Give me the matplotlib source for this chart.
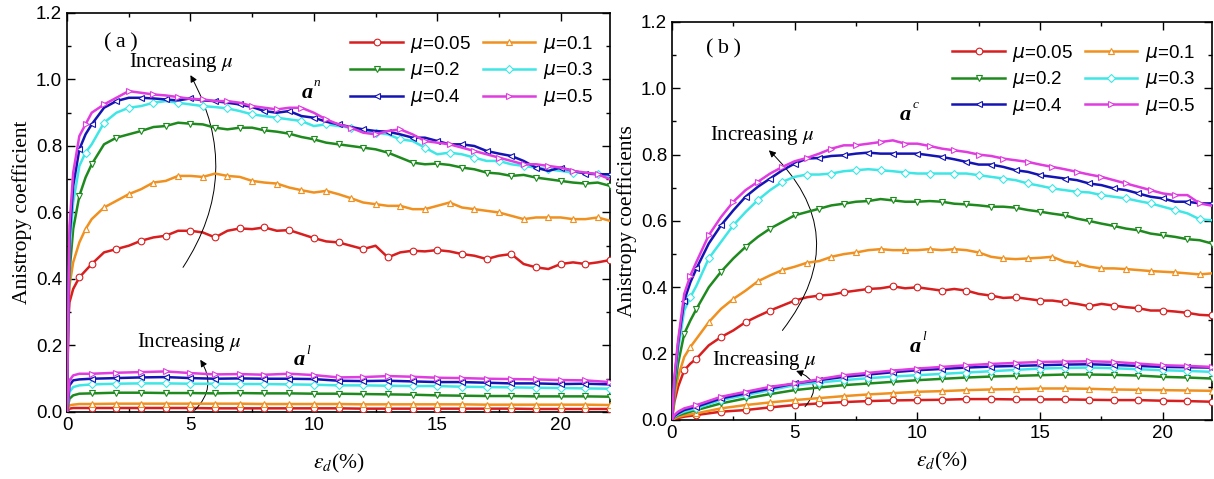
import numpy as np
import matplotlib.pyplot as plt
from matplotlib.ticker import MultipleLocator
from matplotlib.font_manager import FontProperties

plt.rcParams['font.family'] = 'Liberation Sans'

mus = ['0.05', '0.1', '0.2', '0.3', '0.4', '0.5']
colors = ['#d81e1e', '#f0901e', '#1e8a1e', '#3ee6e6', '#1414b4', '#e03ce0']
markers = ['o', '^', 'v', 'D', '<', '>']

# sampling grids of the read-off curves
xa_up = np.concatenate(([0, 0.05, 0.1, 0.25, 0.5, 0.75], np.arange(1, 22.01, 0.5)))
xb_up = np.concatenate(([0, 0.1, 0.25, 0.5, 0.75], np.arange(1, 22.01, 0.5)))
x_low = np.concatenate(([0, 0.1, 0.25, 0.5], np.arange(1, 22.01, 1.0)))

# ---- panel (a): a^n ----
an_005 = [0, 0.27, 0.33, 0.37, 0.405, 0.425,
          0.445, 0.48, 0.49, 0.50, 0.515, 0.525, 0.53, 0.545, 0.545, 0.54,
          0.525, 0.545, 0.552, 0.55, 0.555, 0.545, 0.547, 0.535, 0.523, 0.513,
          0.51, 0.50, 0.49, 0.50, 0.465, 0.48, 0.485, 0.483, 0.487, 0.483,
          0.475, 0.47, 0.46, 0.47, 0.475, 0.445, 0.435, 0.43, 0.445, 0.45,
          0.445, 0.45, 0.457]
an_01 = [0, 0.30, 0.38, 0.45, 0.51, 0.55,
         0.58, 0.615, 0.635, 0.655, 0.67, 0.69, 0.695, 0.71, 0.71, 0.707,
         0.717, 0.71, 0.707, 0.695, 0.69, 0.687, 0.675, 0.667, 0.66, 0.665,
         0.655, 0.643, 0.63, 0.625, 0.62, 0.62, 0.61, 0.61, 0.62, 0.63,
         0.615, 0.61, 0.605, 0.60, 0.59, 0.58, 0.585, 0.585, 0.585, 0.58,
         0.58, 0.585, 0.575]
an_02 = [0, 0.30, 0.42, 0.55, 0.65, 0.705,
         0.745, 0.805, 0.825, 0.835, 0.845, 0.857, 0.86, 0.87, 0.867, 0.865,
         0.855, 0.85, 0.855, 0.855, 0.847, 0.843, 0.837, 0.827, 0.82, 0.81,
         0.805, 0.80, 0.795, 0.79, 0.78, 0.765, 0.75, 0.745, 0.747, 0.743,
         0.735, 0.73, 0.72, 0.717, 0.71, 0.713, 0.705, 0.70, 0.695, 0.69,
         0.687, 0.69, 0.68]
an_03 = [0, 0.30, 0.48, 0.63, 0.74, 0.78,
         0.805, 0.87, 0.90, 0.915, 0.92, 0.93, 0.935, 0.93, 0.925, 0.92,
         0.917, 0.913, 0.905, 0.895, 0.89, 0.885, 0.88, 0.875, 0.86, 0.865,
         0.86, 0.855, 0.845, 0.84, 0.835, 0.82, 0.815, 0.795, 0.775, 0.78,
         0.775, 0.765, 0.755, 0.755, 0.745, 0.74, 0.735, 0.73, 0.725, 0.72,
         0.72, 0.715, 0.71]
an_04 = [0, 0.30, 0.52, 0.68, 0.79, 0.835,
         0.865, 0.915, 0.935, 0.945, 0.945, 0.943, 0.94, 0.937, 0.943, 0.937,
         0.935, 0.93, 0.925, 0.917, 0.905, 0.90, 0.905, 0.89, 0.885, 0.873,
         0.865, 0.857, 0.85, 0.845, 0.843, 0.835, 0.825, 0.825, 0.815, 0.805,
         0.805, 0.80, 0.785, 0.777, 0.77, 0.755, 0.735, 0.725, 0.735, 0.725,
         0.717, 0.715, 0.715]
an_05 = [0, 0.30, 0.56, 0.72, 0.83, 0.865,
         0.90, 0.925, 0.945, 0.965, 0.96, 0.955, 0.952, 0.947, 0.942, 0.94,
         0.935, 0.935, 0.93, 0.92, 0.915, 0.91, 0.915, 0.915, 0.90, 0.88,
         0.865, 0.855, 0.84, 0.835, 0.845, 0.85, 0.835, 0.815, 0.81, 0.805,
         0.795, 0.785, 0.775, 0.765, 0.755, 0.745, 0.745, 0.74, 0.735, 0.725,
         0.72, 0.715, 0.70]

# ---- panel (a): a^l ----
ala_005 = [0, 0.010, 0.012, 0.012,
           0.012, 0.012, 0.012, 0.012, 0.012, 0.011, 0.011, 0.011, 0.011, 0.011, 0.011,
           0.010, 0.010, 0.010, 0.010, 0.010, 0.010, 0.010, 0.009, 0.009, 0.009, 0.009]
ala_01 = [0, 0.020, 0.022, 0.024,
          0.024, 0.025, 0.025, 0.025, 0.025, 0.025, 0.025, 0.024, 0.024, 0.024, 0.024,
          0.023, 0.023, 0.023, 0.023, 0.023, 0.022, 0.022, 0.022, 0.022, 0.022, 0.021]
ala_02 = [0, 0.040, 0.050, 0.055,
          0.056, 0.058, 0.058, 0.057, 0.057, 0.056, 0.057, 0.056, 0.056, 0.055, 0.055,
          0.054, 0.053, 0.052, 0.050, 0.049, 0.048, 0.048, 0.047, 0.047, 0.047, 0.046]
ala_03 = [0, 0.060, 0.075, 0.080,
          0.083, 0.085, 0.086, 0.086, 0.085, 0.085, 0.084, 0.084, 0.083, 0.082, 0.080,
          0.080, 0.079, 0.078, 0.078, 0.076, 0.075, 0.074, 0.073, 0.072, 0.071, 0.070]
ala_04 = [0, 0.080, 0.095, 0.098,
          0.100, 0.102, 0.104, 0.105, 0.102, 0.100, 0.101, 0.100, 0.100, 0.099, 0.094,
          0.093, 0.094, 0.092, 0.090, 0.090, 0.088, 0.086, 0.086, 0.084, 0.085, 0.083]
ala_05 = [0, 0.095, 0.110, 0.115,
          0.115, 0.118, 0.120, 0.122, 0.117, 0.113, 0.114, 0.112, 0.115, 0.111, 0.104,
          0.105, 0.108, 0.106, 0.103, 0.102, 0.100, 0.099, 0.098, 0.096, 0.095, 0.090]

# ---- panel (b): a^c ----
ac_005 = [0, 0.055, 0.10, 0.15, 0.17,
          0.185, 0.225, 0.25, 0.27, 0.295, 0.313, 0.33, 0.345, 0.36, 0.37,
          0.375, 0.378, 0.385, 0.39, 0.395, 0.397, 0.403, 0.397, 0.40, 0.395,
          0.39, 0.395, 0.39, 0.38, 0.375, 0.368, 0.37, 0.365, 0.36, 0.36,
          0.355, 0.35, 0.343, 0.35, 0.345, 0.34, 0.337, 0.33, 0.33, 0.327,
          0.323, 0.317, 0.315]
ac_01 = [0, 0.07, 0.13, 0.19, 0.22,
         0.245, 0.295, 0.335, 0.365, 0.39, 0.418, 0.436, 0.452, 0.462, 0.474,
         0.479, 0.492, 0.50, 0.505, 0.512, 0.515, 0.512, 0.512, 0.512, 0.515,
         0.512, 0.515, 0.512, 0.505, 0.492, 0.487, 0.485, 0.487, 0.489, 0.492,
         0.477, 0.472, 0.462, 0.457, 0.457, 0.455, 0.452, 0.449, 0.447, 0.445,
         0.442, 0.439, 0.442]
ac_02 = [0, 0.09, 0.17, 0.26, 0.30,
         0.335, 0.40, 0.447, 0.487, 0.522, 0.552, 0.577, 0.597, 0.617, 0.627,
         0.637, 0.647, 0.652, 0.658, 0.66, 0.666, 0.662, 0.658, 0.658, 0.66,
         0.658, 0.652, 0.65, 0.647, 0.643, 0.643, 0.64, 0.633, 0.628, 0.622,
         0.617, 0.607, 0.60, 0.592, 0.585, 0.577, 0.572, 0.562, 0.557, 0.552,
         0.545, 0.542, 0.532]
ac_03 = [0, 0.11, 0.21, 0.33, 0.37,
         0.405, 0.487, 0.537, 0.587, 0.627, 0.663, 0.693, 0.718, 0.733, 0.74,
         0.74, 0.743, 0.75, 0.753, 0.756, 0.753, 0.75, 0.746, 0.743, 0.743,
         0.743, 0.743, 0.743, 0.738, 0.733, 0.728, 0.723, 0.713, 0.706, 0.698,
         0.693, 0.688, 0.686, 0.678, 0.673, 0.668, 0.66, 0.653, 0.643, 0.633,
         0.623, 0.605, 0.602]
ac_04 = [0, 0.12, 0.23, 0.36, 0.415,
         0.457, 0.532, 0.587, 0.632, 0.673, 0.703, 0.728, 0.753, 0.773, 0.788,
         0.79, 0.796, 0.798, 0.803, 0.806, 0.803, 0.803, 0.803, 0.803, 0.798,
         0.793, 0.786, 0.778, 0.77, 0.77, 0.763, 0.753, 0.748, 0.738, 0.733,
         0.728, 0.723, 0.713, 0.708, 0.698, 0.693, 0.683, 0.673, 0.668, 0.658,
         0.658, 0.653, 0.653]
ac_05 = [0, 0.13, 0.24, 0.38, 0.435,
         0.477, 0.557, 0.612, 0.658, 0.693, 0.718, 0.743, 0.763, 0.78, 0.79,
         0.803, 0.818, 0.828, 0.828, 0.833, 0.838, 0.843, 0.833, 0.833, 0.826,
         0.818, 0.813, 0.808, 0.80, 0.796, 0.788, 0.783, 0.778, 0.77, 0.763,
         0.756, 0.748, 0.74, 0.733, 0.723, 0.713, 0.703, 0.693, 0.683, 0.678,
         0.678, 0.653, 0.646]

# ---- panel (b): a^l ----
alb_005 = [0, 0.003, 0.006, 0.010,
           0.015, 0.025, 0.030, 0.038, 0.045, 0.050, 0.054, 0.057, 0.059, 0.060, 0.061,
           0.063, 0.063, 0.062, 0.062, 0.062, 0.061, 0.060, 0.060, 0.058, 0.057, 0.055]
alb_01 = [0, 0.005, 0.009, 0.014,
          0.020, 0.035, 0.045, 0.053, 0.060, 0.066, 0.072, 0.077, 0.081, 0.085, 0.087,
          0.090, 0.092, 0.093, 0.095, 0.095, 0.094, 0.092, 0.091, 0.090, 0.089, 0.088]
alb_02 = [0, 0.008, 0.014, 0.020,
          0.030, 0.050, 0.065, 0.078, 0.090, 0.098, 0.105, 0.110, 0.115, 0.120, 0.124,
          0.128, 0.131, 0.133, 0.135, 0.137, 0.137, 0.136, 0.134, 0.130, 0.128, 0.125]
alb_03 = [0, 0.010, 0.017, 0.025,
          0.035, 0.060, 0.075, 0.090, 0.105, 0.113, 0.120, 0.126, 0.131, 0.135, 0.139,
          0.143, 0.147, 0.151, 0.155, 0.157, 0.158, 0.156, 0.153, 0.150, 0.148, 0.145]
alb_04 = [0, 0.012, 0.020, 0.030,
          0.040, 0.065, 0.080, 0.095, 0.110, 0.120, 0.130, 0.137, 0.144, 0.150, 0.154,
          0.158, 0.161, 0.163, 0.165, 0.167, 0.168, 0.166, 0.163, 0.160, 0.159, 0.158]
alb_05 = [0, 0.015, 0.025, 0.035,
          0.045, 0.070, 0.085, 0.100, 0.110, 0.123, 0.135, 0.142, 0.149, 0.155, 0.160,
          0.165, 0.169, 0.172, 0.175, 0.176, 0.177, 0.175, 0.170, 0.165, 0.163, 0.160]

an = [an_005, an_01, an_02, an_03, an_04, an_05]
ala = [ala_005, ala_01, ala_02, ala_03, ala_04, ala_05]
ac = [ac_005, ac_01, ac_02, ac_03, ac_04, ac_05]
alb = [alb_005, alb_01, alb_02, alb_03, alb_04, alb_05]

serif = 'Liberation Serif'

fig = plt.figure(figsize=(12.14, 4.79), dpi=100)
ax1 = fig.add_axes([0.0552, 0.1399, 0.4473, 0.833])
ax2 = fig.add_axes([0.5535, 0.1232, 0.4448, 0.831])


def draw(ax, xu, ups, up_start, xl, lows, ylab, xpad):
    for i in range(6):
        c = colors[i]
        ms = 4.8 if markers[i] != 'D' else 3.8
        ax.plot(xu, ups[i], color=c, lw=1.8, marker=markers[i],
                ms=ms, mfc='white', mec=c, mew=0.8,
                markevery=slice(up_start + i % 2, None, 2),
                label=r'$\mu$=' + mus[i], zorder=3 + i)
        ax.plot(xl, lows[i], color=c, lw=1.8, marker=markers[i],
                ms=ms, mfc='white', mec=c, mew=0.8,
                markevery=slice(4, None, 1), zorder=3 + i)
    ax.set_xlim(0, 22)
    ax.set_ylim(0, 1.2)
    ax.set_xticks([0, 5, 10, 15, 20])
    ax.xaxis.set_minor_locator(MultipleLocator(2.5))
    ax.set_yticks(np.arange(0, 1.21, 0.2))
    ax.set_yticklabels(['%.1f' % v for v in np.arange(0, 1.21, 0.2)])
    ax.yaxis.set_minor_locator(MultipleLocator(0.1))
    ax.tick_params(which='both', direction='in', top=True, right=True,
                   labelsize=13.5, width=1.0)
    ax.tick_params(which='major', length=6)
    ax.tick_params(which='minor', length=3)
    for s in ax.spines.values():
        s.set_linewidth(1.2)
    ax.set_ylabel(ylab, family=serif, fontsize=15.5, labelpad=3)
    ax.set_xlabel(r'$\varepsilon_d$(%)', family=serif, fontsize=15.5,
                  math_fontfamily='stix', labelpad=xpad)
    h, l = ax.get_legend_handles_labels()
    order = [0, 2, 4, 1, 3, 5]
    ax.legend([h[k] for k in order], [l[k] for k in order], ncol=2,
              loc='upper right', bbox_to_anchor=(1.0, 0.99), frameon=False,
              prop=FontProperties(family='Liberation Sans', size=13.5,
                                  math_fontfamily='dejavusans'),
              handlelength=2.8, columnspacing=0.6, labelspacing=0.3,
              handletextpad=0.4, numpoints=1)


def arrow(ax, tail, head, rad):
    ax.annotate('', xy=head, xytext=tail,
                arrowprops=dict(arrowstyle='-|>', color='k', lw=0.7,
                                connectionstyle='arc3,rad=%s' % rad,
                                shrinkA=0, shrinkB=0, mutation_scale=10))


def sym(ax, x, y, sup):
    ax.text(x, y, 'a', family=serif, style='italic', weight='bold',
            fontsize=16, va='center')
    ax.annotate(sup, xy=(x, y), xytext=(9, 7), textcoords='offset points',
                family=serif, style='italic', fontsize=9.5, va='center')


draw(ax1, xa_up, an, 4, x_low, ala, 'Anistropy coefficient', 13)
draw(ax2, xb_up, ac, 3, x_low, alb, 'Anistropy coefficients', 6)

ax1.text(1.5, 1.11, '(\u2009a\u2009)', family=serif, fontsize=16, va='center')
ax2.text(1.4, 1.12, '(\u2009b\u2009)', family=serif, fontsize=16, va='center')

txt = dict(family=serif, fontsize=15, va='center', math_fontfamily='stix')
ax1.text(2.5, 1.05, r'Increasing $\mu$', **txt)
ax1.text(2.85, 0.21, r'Increasing $\mu$', **txt)
ax2.text(1.55, 0.858, r'Increasing $\mu$', **txt)
ax2.text(1.65, 0.18, r'Increasing $\mu$', **txt)

arrow(ax1, (4.7, 0.435), (5.0, 1.013), 0.3)
arrow(ax1, (5.17, 0.005), (5.4, 0.157), 0.4)
arrow(ax2, (4.5, 0.27), (3.95, 0.813), 0.45)
arrow(ax2, (5.42, 0.04), (5.06, 0.148), 0.7)

sym(ax1, 9.5, 0.96, 'n')
sym(ax1, 9.2, 0.155, 'l')
sym(ax2, 9.3, 0.92, 'c')
sym(ax2, 9.7, 0.22, 'l')

fig.savefig('out.png', dpi=100)
